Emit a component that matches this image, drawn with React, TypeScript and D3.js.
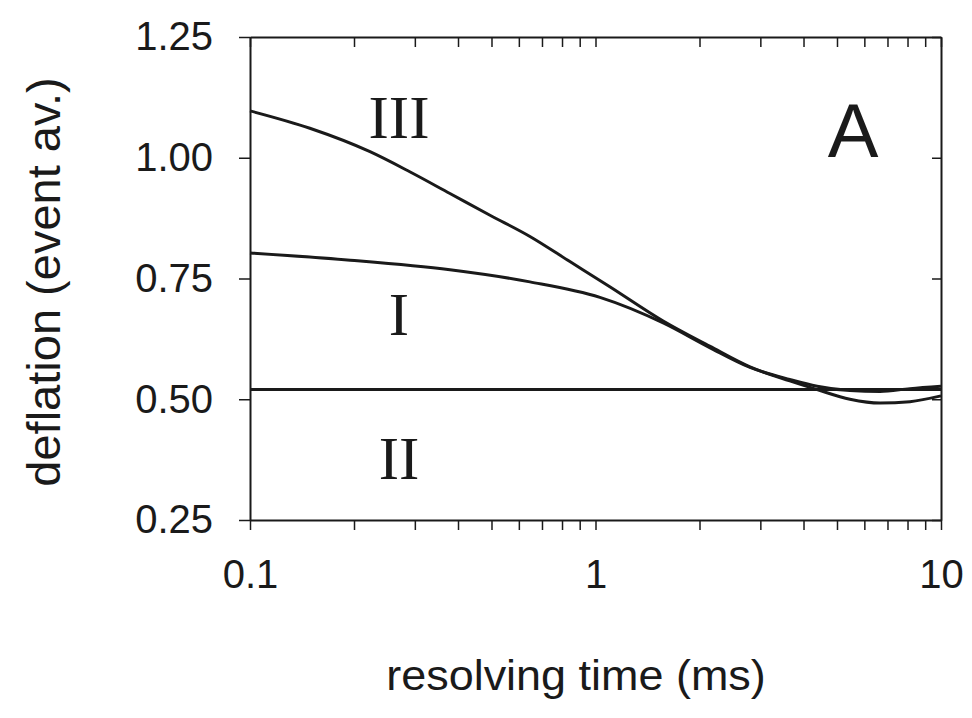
import React, { useEffect, useRef } from 'react';
import * as d3 from 'd3';

// resolving time (ms) and deflation values
const timesIII = [0.1, 0.149, 0.2225, 0.29, 0.379, 0.495, 0.646, 0.843, 1.1, 1.57, 2.14, 2.8, 3.65, 4.38, 5.45, 6.66, 8.13, 10];
const curveIII = [1.097, 1.061, 1.0125, 0.971, 0.926, 0.881, 0.837, 0.785, 0.733, 0.662, 0.61, 0.567, 0.538, 0.52, 0.5, 0.492, 0.495, 0.507];
const timesI = [0.1, 0.195, 0.379, 0.646, 1.03, 1.57, 2.14, 2.8, 3.65, 4.38, 5.45, 6.66, 8.13, 10];
const curveI = [0.803, 0.788, 0.768, 0.743, 0.711, 0.658, 0.607, 0.566, 0.541, 0.527, 0.518, 0.516, 0.522, 0.527];
const levelII = 0.52;
const yTicks = [0.25, 0.5, 0.75, 1.0, 1.25];
const xMajor = [0.1, 1, 10];
const regionLabels = [
  { text: 'III', t: 0.27, v: 1.041 },
  { text: 'I', t: 0.27, v: 0.633 },
  { text: 'II', t: 0.27, v: 0.335 },
];

const W = 972;
const H = 718;

const App = () => {
  const svgRef = useRef<SVGSVGElement>(null);

  useEffect(() => {
    const svg = d3.select(svgRef.current);
    svg.selectAll('*').remove();

    const x = d3.scaleLog().domain([0.1, 10]).range([250, 941]);
    const y = d3.scaleLinear().domain([0.25, 1.25]).range([520, 37]);
    const ink = '#1a1a1a';
    const font = '"Liberation Sans", Arial, sans-serif';

    const isMajor = (d: number) => xMajor.some(m => Math.abs(m - d) < 1e-9);

    const styleAxis = (g: any) => {
      g.attr('font-family', font).attr('font-size', 40);
      g.select('.domain').attr('stroke', ink).attr('stroke-width', 2);
      g.selectAll('.tick line').attr('stroke', ink).attr('stroke-width', 1.5);
      g.selectAll('.tick text').attr('fill', ink);
    };

    // bottom axis (outward ticks, labels at decades)
    svg.append('g')
      .attr('transform', `translate(0,${y(0.25)})`)
      .call(d3.axisBottom(x).tickValues(x.ticks()).tickSize(10).tickSizeOuter(0).tickPadding(30)
        .tickFormat((d: any) => (isMajor(d) ? String(d) : '')))
      .call(styleAxis);

    // top axis (inward ticks)
    svg.append('g')
      .attr('transform', `translate(0,${y(1.25)})`)
      .call(d3.axisBottom(x).tickValues(x.ticks()).tickSize(10).tickSizeOuter(0).tickFormat(() => ''))
      .call(styleAxis);

    // left axis (outward ticks)
    svg.append('g')
      .attr('transform', `translate(${x(0.1)},0)`)
      .call(d3.axisLeft(y).tickValues(yTicks).tickSize(11).tickSizeOuter(0).tickPadding(26)
        .tickFormat(d3.format('.2f')))
      .call(styleAxis);

    // right axis (inward ticks)
    svg.append('g')
      .attr('transform', `translate(${x(10)},0)`)
      .call(d3.axisLeft(y).tickValues(yTicks).tickSize(9).tickSizeOuter(0).tickFormat(() => ''))
      .call(styleAxis);

    svg.append('line')
      .attr('x1', x(0.1)).attr('x2', x(10))
      .attr('y1', y(levelII)).attr('y2', y(levelII))
      .attr('stroke', ink).attr('stroke-width', 3);

    const series = [
      { t: timesIII, v: curveIII },
      { t: timesI, v: curveI },
    ];
    series.forEach(s => {
      const line = d3.line<number>()
        .x((_, i) => x(s.t[i]))
        .y(d => y(d))
        .curve(d3.curveMonotoneX);
      svg.append('path')
        .datum(s.v)
        .attr('d', line)
        .attr('fill', 'none')
        .attr('stroke', ink)
        .attr('stroke-width', 3);
    });

    svg.selectAll('.region')
      .data(regionLabels)
      .join('text')
      .attr('class', 'region')
      .attr('x', d => x(d.t))
      .attr('y', d => y(d.v))
      .attr('text-anchor', 'middle')
      .attr('font-family', '"Liberation Serif", "Times New Roman", serif')
      .attr('font-size', 61)
      .attr('fill', ink)
      .text(d => d.text);

    svg.append('text')
      .attr('x', 853).attr('y', 157)
      .attr('text-anchor', 'middle')
      .attr('font-family', font)
      .attr('font-size', 76)
      .attr('fill', ink)
      .text('A');

    svg.append('text')
      .attr('transform', 'translate(576,690) scale(1.07,1)')
      .attr('text-anchor', 'middle')
      .attr('font-family', font)
      .attr('font-size', 42)
      .attr('fill', ink)
      .text('resolving time (ms)');

    svg.append('text')
      .attr('transform', 'translate(60,282) rotate(-90)')
      .attr('text-anchor', 'middle')
      .attr('font-family', font)
      .attr('font-size', 47)
      .attr('fill', ink)
      .text('deflation (event av.)');
  }, []);

  return (
    <svg
      ref={svgRef}
      width={W}
      height={H}
      style={{ position: 'absolute', left: 0, top: 0, background: '#ffffff' }}
    />
  );
};

export default App;
